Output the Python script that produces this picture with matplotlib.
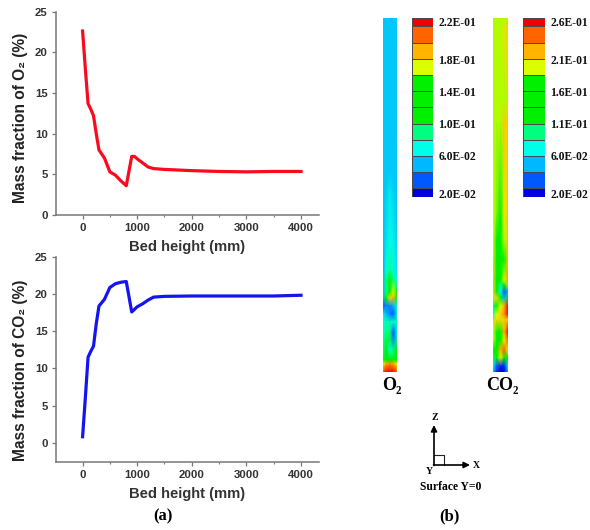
import matplotlib
matplotlib.use("Agg")
import matplotlib.pyplot as plt
from matplotlib.colors import LinearSegmentedColormap, ListedColormap
from matplotlib.ticker import MultipleLocator
import numpy as np

W, H = 590, 530

plt.rcParams['font.family'] = ['Liberation Sans', 'DejaVu Sans']

# line charts
o2_x = [0, 50, 100, 150, 200, 250, 300, 400, 500, 600, 700, 800, 900, 950, 1000,
        1100, 1200, 1300, 1500, 2000, 2500, 3000, 3500, 4000]
o2_y = [22.6, 18, 13.7, 13, 12.2, 10, 8, 7, 5.3, 4.9, 4.2, 3.6, 7.2, 7.2, 6.9,
        6.4, 5.9, 5.7, 5.6, 5.45, 5.35, 5.3, 5.35, 5.35]
co2_x = [0, 50, 100, 150, 200, 250, 300, 400, 500, 600, 700, 800, 900, 1000,
         1100, 1200, 1300, 1500, 2000, 3000, 3500, 4000]
co2_y = [0.8, 6, 11.5, 12.3, 13, 16, 18.4, 19.3, 20.9, 21.4, 21.6, 21.7, 17.6, 18.3,
         18.7, 19.2, 19.6, 19.7, 19.75, 19.75, 19.75, 19.85]

# colour bands, bottom to top
band_colors = ['#0000dc', '#0058ff', '#00b8ff', '#00ffe6', '#00ff80', '#00f000',
               '#00f000', '#00f000', '#dcff00', '#ffb400', '#ff6400', '#f00000']
band_edges = [197, 188, 172, 156, 140, 124, 107, 91, 75, 59, 43, 26, 17.5]
o2_ticks = ['2.0E-02', '6.0E-02', '1.0E-01', '1.4E-01', '1.8E-01', '2.2E-01']
co2_ticks = ['2.0E-02', '6.0E-02', '1.1E-01', '1.6E-01', '2.1E-01', '2.6E-01']
tick_rows = [193, 156, 124, 91, 60, 22]

# contour columns: image row, then band level across the bed
o2_rows = [18, 170, 190, 240, 270, 280, 292, 298, 306, 314, 322, 332, 340, 350, 360, 364, 372]
o2_levels = [
    [2.3, 2.2, 2.2, 2.2, 2.3],
    [2.3, 2.2, 2.2, 2.2, 2.3],
    [2.2, 2.3, 2.7, 2.3, 2.2],
    [2.0, 2.6, 3.0, 2.8, 2.3],
    [1.8, 3.0, 4.0, 3.0, 2.5],
    [2.0, 4.0, 5.0, 4.0, 3.0],
    [2.0, 4.0, 6.0, 8.0, 6.0],
    [2.0, 5.0, 8.5, 9.0, 5.0],
    [1.0, 1.5, 1.5, 2.0, 3.5],
    [3.0, 2.0, 1.5, 1.0, 3.0],
    [3.0, 3.5, 3.5, 3.0, 4.0],
    [3.0, 4.0, 4.0, 1.0, 3.0],
    [3.5, 4.5, 4.5, 1.5, 4.0],
    [3.5, 5.0, 3.0, 4.0, 5.0],
    [4.5, 6.0, 6.0, 6.5, 6.0],
    [8.0, 9.0, 9.5, 9.0, 8.0],
    [10.0, 11.0, 11.0, 11.0, 10.0],
]
co2_rows = [18, 30, 78, 100, 122, 215, 240, 260, 280, 285, 292, 298, 306, 314, 320, 332, 340, 350, 358, 366, 372]
co2_levels = [
    [7.8, 7.8, 7.8, 7.8, 7.8],
    [7.8, 7.8, 7.8, 8.3, 8.5],
    [7.8, 7.8, 7.8, 7.8, 8.5],
    [7.8, 7.8, 7.8, 7.8, 7.8],
    [7.8, 7.8, 7.8, 8.6, 8.6],
    [8.0, 7.5, 7.0, 8.2, 8.6],
    [8.0, 6.5, 5.5, 7.8, 8.6],
    [8.3, 6.0, 5.0, 7.0, 8.6],
    [8.5, 5.5, 5.0, 8.0, 9.3],
    [8.5, 5.5, 4.0, 5.0, 8.5],
    [8.5, 7.0, 3.0, 1.0, 2.0],
    [8.5, 8.5, 5.0, 2.0, 7.0],
    [4.0, 7.0, 8.0, 9.0, 11.0],
    [3.5, 8.0, 8.5, 9.5, 11.0],
    [8.5, 8.5, 8.5, 8.5, 8.8],
    [8.0, 5.0, 5.0, 9.0, 11.0],
    [8.0, 5.0, 5.0, 8.0, 10.0],
    [7.0, 6.0, 9.0, 10.0, 8.0],
    [4.0, 7.0, 8.0, 5.0, 7.0],
    [3.0, 1.0, 0.5, 0.5, 3.0],
    [2.0, 0.5, 0.0, 0.0, 2.0],
]


def px_axes(fig, left, top, right, bottom):
    return fig.add_axes([left / W, 1 - bottom / H, (right - left) / W, (bottom - top) / H])


def px_text(fig, x, y, s, **kw):
    kw.setdefault('ha', 'center')
    kw.setdefault('va', 'center')
    fig.text(x / W, 1 - y / H, s, **kw)


def line_panel(fig, box, x, y, color, ylow, ylabel, label_y):
    ax = px_axes(fig, *box)
    ax.plot(x, y, color=color, lw=2.3, solid_joinstyle='round')
    ax.set_xlim(-487, 4330)
    ax.set_ylim(ylow, 25)
    ax.set_xticks([0, 1000, 2000, 3000, 4000])
    ax.set_yticks([0, 5, 10, 15, 20, 25])
    ax.xaxis.set_minor_locator(MultipleLocator(500))
    ax.spines[['top', 'right']].set_visible(False)
    ax.spines[['left', 'bottom']].set_color('#777777')
    ax.spines[['left', 'bottom']].set_linewidth(1.1)
    ax.tick_params(which='major', length=3, width=0.9, color='#777777',
                   labelsize=8.2, labelcolor='#333333', pad=3)
    ax.tick_params(which='minor', length=1.5, width=0.8, color='#777777')
    for lab in ax.get_xticklabels() + ax.get_yticklabels():
        lab.set_fontweight('bold')
    ax.set_xlabel('Bed height (mm)', fontsize=10.6, fontweight='bold', color='#333333', labelpad=5)
    ax.set_ylabel(ylabel, fontsize=11.2, fontweight='bold', color='#222222')
    ax.yaxis.set_label_coords(-0.105, label_y)
    return ax


def column(fig, box, rows, levels, cmap):
    ax = px_axes(fig, *box)
    across = np.linspace(0, 1, len(levels[0]))
    ax.pcolormesh(across, rows, np.array(levels), cmap=cmap, vmin=0, vmax=11,
                  shading='gouraud', rasterized=True)
    ax.set_ylim(rows[-1], rows[0])
    ax.axis('off')
    return ax


def colorbar(fig, box, labels):
    ax = px_axes(fig, *box)
    listed = ListedColormap(band_colors)
    vals = np.arange(len(band_colors)).reshape(-1, 1)
    ax.pcolormesh([0, 1], band_edges, vals, cmap=listed, edgecolors='#4a4a4a', linewidth=0.5)
    ax.set_ylim(band_edges[0], band_edges[-1])
    ax.set_xticks([])
    ax.yaxis.tick_right()
    ax.set_yticks(tick_rows)
    ax.set_yticklabels(labels, family=['Liberation Serif', 'DejaVu Serif'], fontweight='bold',
                       fontsize=8.4, color='#111111')
    ax.tick_params(axis='y', length=0, pad=4)
    for s in ax.spines.values():
        s.set_visible(False)
    return ax


fig = plt.figure(figsize=(W / 100, H / 100), dpi=100)
smooth = LinearSegmentedColormap.from_list('bands', band_colors, N=256)

line_panel(fig, (56, 11.5, 319, 215), o2_x, o2_y, '#fa0a1e', 0, 'Mass fraction of O\u2082 (%)', 0.477)
line_panel(fig, (56, 257, 319, 461.7), co2_x, co2_y, '#1414f0', -2.56, 'Mass fraction of CO\u2082 (%)', 0.448)

column(fig, (382.5, 18, 397, 372), o2_rows, o2_levels, smooth)
column(fig, (493, 18, 508, 372), co2_rows, co2_levels, smooth)
colorbar(fig, (412, 17.5, 433, 197), o2_ticks)
colorbar(fig, (523, 17.5, 545, 197), co2_ticks)

serif = ['Liberation Serif', 'DejaVu Serif']
px_text(fig, 163, 516, '(a)', family=serif, fontweight='bold', fontsize=12)
px_text(fig, 449, 516, '(b)', family=serif, fontweight='bold', fontsize=12)
px_text(fig, 392, 385, 'O\u2082', family=serif, fontweight='bold', fontsize=13)
px_text(fig, 502, 385, 'CO\u2082', family=serif, fontweight='bold', fontsize=13)
px_text(fig, 435, 418, 'Z', family=serif, fontweight='bold', fontsize=7)
px_text(fig, 476, 465, 'X', family=serif, fontweight='bold', fontsize=7)
px_text(fig, 429, 471, 'Y', family=serif, fontweight='bold', fontsize=7)
px_text(fig, 451, 487, 'Surface Y=0', family=serif, fontweight='bold', fontsize=8.4)

# coordinate triad, in image pixels
tri = fig.add_axes([0, 0, 1, 1], facecolor='none')
tri.set_xlim(0, W)
tri.set_ylim(H, 0)
tri.axis('off')
arrow = dict(arrowstyle='-|>', color='black', lw=1.2, mutation_scale=9, shrinkA=0, shrinkB=0)
tri.annotate('', xy=(434, 425), xytext=(434, 465.5), arrowprops=arrow)
tri.annotate('', xy=(470, 465), xytext=(433.5, 465), arrowprops=arrow)
tri.plot([434, 443.5, 443.5], [454.5, 454.5, 465], color='#222222', lw=0.8)

fig.savefig('out.png', dpi=100)
